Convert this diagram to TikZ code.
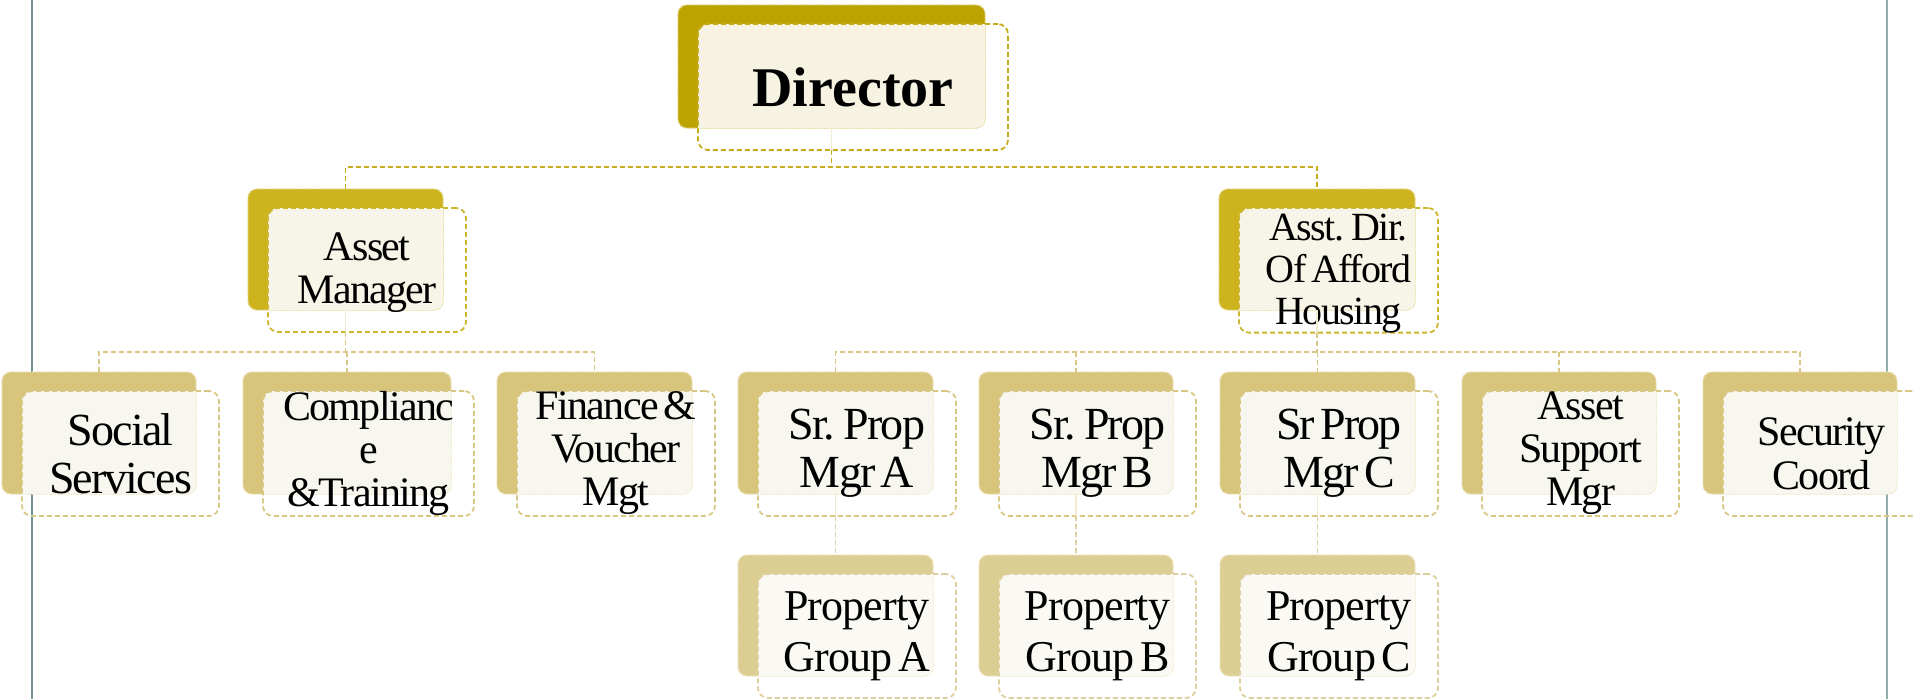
\documentclass[tikz,border=0pt]{standalone}
\usepackage{fontspec}
\setmainfont{Liberation Serif}
\newfontfamily\bxfont{Liberation Serif}[LetterSpace=-4, WordSpace=0.55]
\newfontfamily\pgfont{Liberation Serif}[LetterSpace=-2, WordSpace=0.55]
\usetikzlibrary{calc}

% palette: back fill, back dots, cream overlay, outline
\definecolor{dirbk}{HTML}{BCA300}
\definecolor{dirdt}{HTML}{D9CB6E}
\definecolor{dircr}{HTML}{F6F3E2}
\definecolor{dirln}{HTML}{C6AC1C}
\definecolor{lvabk}{HTML}{CDB31E}
\definecolor{lvadt}{HTML}{E0D27A}
\definecolor{lvacr}{HTML}{F7F5E7}
\definecolor{lvaln}{HTML}{CEB630}
\definecolor{lvbbk}{HTML}{D8C57C}
\definecolor{lvbdt}{HTML}{E8DDAE}
\definecolor{lvbcr}{HTML}{F8F7EF}
\definecolor{lvbln}{HTML}{D9C785}
\definecolor{lvcbk}{HTML}{DCCE93}
\definecolor{lvcdt}{HTML}{EAE2BE}
\definecolor{lvccr}{HTML}{FAF9F4}
\definecolor{lvcln}{HTML}{DED09C}
\definecolor{edgeline}{HTML}{729393}
\definecolor{edgelineb}{HTML}{8FADAD}
\definecolor{stubcol}{HTML}{F1ECD2}

\tikzset{
  backbox/.style={rounded corners=9pt, line width=1.3pt, densely dotted, inner sep=0pt, outer sep=0pt},
  frontbox/.style={rounded corners=10pt, line width=1.8pt, dash pattern=on 5pt off 3pt, inner sep=0pt, outer sep=0pt, align=center, text=black},
  conn/.style={line width=1.6pt, dash pattern=on 5pt off 3pt},
  stub/.style={line width=1.4pt, draw=stubcol},
}

% one chart unit: back card, cream overlap, dashed front card with the label
% #1 name, #2 x, #3 y, #4 width, #5 height, #6 palette, #7 font, #8 label
\newcommand\orgunit[8]{%
  \node[backbox, fill=#6bk, draw=#6dt, minimum width=#4pt, minimum height=#5pt, anchor=north west] (#1B) at (#2,#3) {};
  \begin{scope}
    \clip[rounded corners=9pt] (#1B.north west) rectangle (#1B.south east);
    \fill[#6cr, rounded corners=10pt] ($(#1B.north west)+(20,19)$) rectangle ++(#4+3,#5+3);
  \end{scope}
  \node[frontbox, draw=#6ln, minimum width=#4pt+3pt, minimum height=#5pt+3pt, anchor=north west, font=#7] (#1) at ($(#1B.north west)+(20,19)$) {#8};
}

\begin{document}
\begin{tikzpicture}[x=1pt,y=-1pt]
\useasboundingbox (0,0) rectangle (1915,699);

% page edge rules
\draw[edgeline, line width=2pt] (32,0) -- (32,699);
\draw[edgelineb, line width=2pt] (1887,0) -- (1887,699);

\coordinate (busTop) at (0,167);
\coordinate (busMid) at (0,352);

% boxes
\orgunit{dir}{678}{5}{307}{123}{dir}{\fontsize{56pt}{60pt}\selectfont\bfseries}{Director}

\orgunit{am}{248}{189}{195}{121}{lva}{\bxfont\fontsize{42pt}{43pt}\selectfont}{\rule{0pt}{34pt}Asset\\Manager}
\orgunit{ad}{1219}{189}{196}{121}{lva}{\bxfont\fontsize{40pt}{42pt}\selectfont}{\rule{0pt}{32pt}Asst. Dir.\\Of Afford\\Housing}

\orgunit{ss}{2}{372}{194}{122}{lvb}{\bxfont\fontsize{46pt}{48pt}\selectfont}{Social\\Services}
\orgunit{ct}{243}{372}{208}{122}{lvb}{\bxfont\fontsize{42pt}{43pt}\selectfont}{Complianc\\e\\\&Training}
\orgunit{fv}{497}{372}{195}{122}{lvb}{\bxfont\fontsize{42pt}{43pt}\selectfont}{Finance \&\\Voucher\\Mgt}
\orgunit{sa}{738}{372}{195}{122}{lvb}{\bxfont\fontsize{46pt}{48pt}\selectfont}{Sr. Prop\\Mgr A}
\orgunit{sb}{979}{372}{194}{122}{lvb}{\bxfont\fontsize{46pt}{48pt}\selectfont}{Sr. Prop\\Mgr B}
\orgunit{sc}{1220}{372}{195}{122}{lvb}{\bxfont\fontsize{46pt}{48pt}\selectfont}{Sr Prop\\Mgr C}
\orgunit{asp}{1462}{372}{194}{122}{lvb}{\bxfont\fontsize{42pt}{43pt}\selectfont}{Asset\\Support\\Mgr}
\orgunit{sec}{1703}{372}{194}{122}{lvb}{\bxfont\fontsize{42pt}{44pt}\selectfont}{Security\\Coord}

\orgunit{pa}{738}{555}{195}{121}{lvc}{\pgfont\fontsize{44pt}{51pt}\selectfont}{Property\\Group A}
\orgunit{pb}{979}{555}{194}{121}{lvc}{\pgfont\fontsize{44pt}{51pt}\selectfont}{Property\\Group B}
\orgunit{pc}{1220}{555}{195}{121}{lvc}{\pgfont\fontsize{44pt}{51pt}\selectfont}{Property\\Group C}

% connectors: director to managers
\draw[stub] (dirB.south) -- (dirB.south |- dir.south);
\draw[conn, draw=dirln] (dirB.south |- dir.south) -- (dirB.south |- busTop);
\draw[conn, draw=dirln] (amB.north) |- (adB.north |- busTop) -- (adB.north);

% asset manager to its staff
\draw[stub] (amB.south) -- (amB.south |- am.south);
\draw[conn, draw=lvbln] (amB.south |- am.south) -- (amB.south |- busMid);
\draw[conn, draw=lvbln] (ssB.north) |- (fvB.north |- busMid) -- (fvB.north);
\draw[conn, draw=lvbln] (ctB.north |- busMid) -- (ctB.north);

% assistant director to its staff
\draw[stub] (adB.south) -- (adB.south |- ad.south);
\draw[conn, draw=lvbln] (adB.south |- ad.south) -- (adB.south |- busMid);
\draw[conn, draw=lvbln] (saB.north) |- (secB.north |- busMid) -- (secB.north);
\draw[conn, draw=lvbln] (sbB.north |- busMid) -- (sbB.north);
\draw[conn, draw=lvbln] (scB.north |- busMid) -- (scB.north);
\draw[conn, draw=lvbln] (aspB.north |- busMid) -- (aspB.north);

% property managers to their groups
\foreach \m/\g in {sa/pa, sb/pb, sc/pc}{
  \draw[stub] (\m B.south) -- (\m B.south |- \m.south);
  \draw[conn, draw=lvcln] (\m B.south |- \m.south) -- (\g B.north);
}
\end{tikzpicture}
\end{document}
